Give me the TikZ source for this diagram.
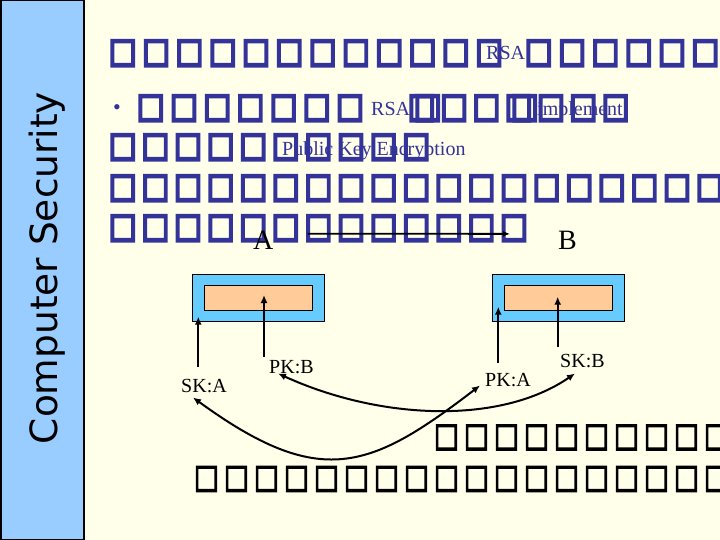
\documentclass[tikz,border=0pt]{standalone}
\usepackage{fontspec}
\setmainfont{Liberation Serif}
\newfontfamily\tofufont[FakeBold=8]{DejaVu Sans}
\newfontfamily\tofufontk[FakeBold=4.5]{DejaVu Sans}
\newfontfamily\panelfont{DejaVu Sans}
\usetikzlibrary{arrows.meta}
\definecolor{bg}{RGB}{255,255,234}
\definecolor{panel}{RGB}{153,204,255}
\definecolor{tblue}{RGB}{51,51,153}
\definecolor{boxblue}{RGB}{102,204,255}
\definecolor{peach}{RGB}{255,204,153}
\newcommand\tofus[3]{\foreach\k in {1,...,#1}{\makebox[#2][l]{\scalebox{#3}[1]{□}}}}
\begin{document}
\begin{tikzpicture}[x=1pt,y=-1pt,
  tofub/.style={inner sep=0pt, outer sep=0pt, anchor=base west, text=tblue, font=\tofufont\fontsize{34}{38}\selectfont},
  tofuk/.style={inner sep=0pt, outer sep=0pt, anchor=base west, text=black, font=\tofufontk\fontsize{33}{36}\selectfont},
  bluetxt/.style={inner sep=0pt, anchor=base west, text=tblue, font=\fontsize{20}{24}\selectfont},
  lab/.style={inner sep=0pt, anchor=base west, font=\fontsize{20}{24}\selectfont},
  big/.style={inner sep=0pt, anchor=base west, font=\fontsize{28}{32}\selectfont},
  outerbox/.style={draw=black, line width=1.2pt, fill=boxblue, minimum width=131.6pt, minimum height=47.4pt, inner sep=0pt},
  innerbox/.style={draw=black, line width=1pt, fill=peach, minimum width=108.7pt, minimum height=25.7pt, inner sep=0pt},
  arr/.style={line width=2.2pt, -{Latex[length=8pt,width=7pt]}},
  thinarr/.style={line width=1.8pt, -{Latex[length=7pt,width=6pt]}},
  darr/.style={line width=2pt, {Latex[length=8pt,width=7pt]}-{Latex[length=8pt,width=7pt]}}
]
\fill[bg] (0,0) rectangle (720,540);
\useasboundingbox (0,0) rectangle (720,540);
% left panel
\fill[panel, draw=black, line width=1.5pt] (0.75,0.75) rectangle (84,539.25);
\node[rotate=90, inner sep=0pt, font=\panelfont\fontsize{37.5}{42}\selectfont] (ttl) at (47,268) {Computer Security};

% title row
\node[tofub] (r0a) at (109,62) {\tofus{12}{33.3pt}{0.86}};
\node[tofub] (r0b) at (525,62) {\tofus{6}{33.3pt}{0.86}};
\node[bluetxt] (rsa0) at (486,60) {RSA};

% bullet row
\node[inner sep=0pt, text=tblue, font=\fontsize{22}{24}\selectfont] (bul) at (117,110) {\textbullet};
\node[tofub] (r1a) at (137,117) {\tofus{7}{33.2pt}{0.86}};
\node[tofub] (r1b) at (408,117) {\tofus{7}{32.3pt}{0.86}};
\node[tofub] (r1c) at (414,117) {\tofus{2}{97pt}{0.86}};
\node[bluetxt] (rsa1) at (371,116) {RSA};
\node[bluetxt] (impl) at (537,116) {implement};

% row 2
\node[tofub] (r2) at (109,156) {\tofus{10}{32.6pt}{0.86}};
\node[bluetxt] (pke) at (282,156) {Public Key Encryption};

% rows 3, 4
\node[tofub] (r3) at (109,197) {\tofus{19}{32.6pt}{0.86}};
\node[tofub] (r4) at (109,237) {\tofus{13}{32.6pt}{0.86}};

% A -> B
\node[big] (A) at (253,249) {A};
\node[big] (B) at (558,249) {B};
\draw[thinarr] ([xshift=34pt,yshift=6pt]A.east) -- ([xshift=-48pt,yshift=6pt]B.west);

% boxes
\node[outerbox] (boxA) at (258.5,298) {};
\node[innerbox] (inA) at (258.4,298) {};
\node[outerbox] (boxB) at (558.4,298) {};
\node[innerbox] (inB) at (558.5,298) {};

% labels
\node[lab] (ska) at (181,392) {SK:A};
\node[lab] (pkb) at (269,373) {PK:B};
\node[lab] (pka) at (485,386) {PK:A};
\node[lab] (skb) at (560,367) {SK:B};

% vertical arrows
\coordinate (ta1) at (198.3,366.7); \coordinate (ha1) at (198.3,316.7);
\coordinate (ta2) at (264,356.7);   \coordinate (ha2) at (264,295);
\coordinate (tb1) at (498.3,362.7); \coordinate (hb1) at (498.3,306.7);
\coordinate (tb2) at (557.7,347.3); \coordinate (hb2) at (557.7,296.7);
\draw[arr] (ta1) -- (ha1);
\draw[arr] (ta2) -- (ha2);
\draw[arr] (tb1) -- (hb1);
\draw[arr] (tb2) -- (hb2);

% curved exchanges
\draw[darr] ([xshift=12pt,yshift=-5pt]ska.south west) .. controls (320,490) and (370,470) .. ([xshift=-5pt,yshift=1pt]pka.south west);
\draw[darr] ([xshift=9pt]pkb.south west) .. controls (380,420) and (500,425) .. ([xshift=15pt,yshift=-6pt]skb.south west);

% bottom black rows
\node[tofuk] (b1) at (434,446) {\tofus{10}{30pt}{0.8}};
\node[tofuk] (b2) at (194,487.5) {\tofus{18}{30pt}{0.8}};
\end{tikzpicture}
\end{document}
